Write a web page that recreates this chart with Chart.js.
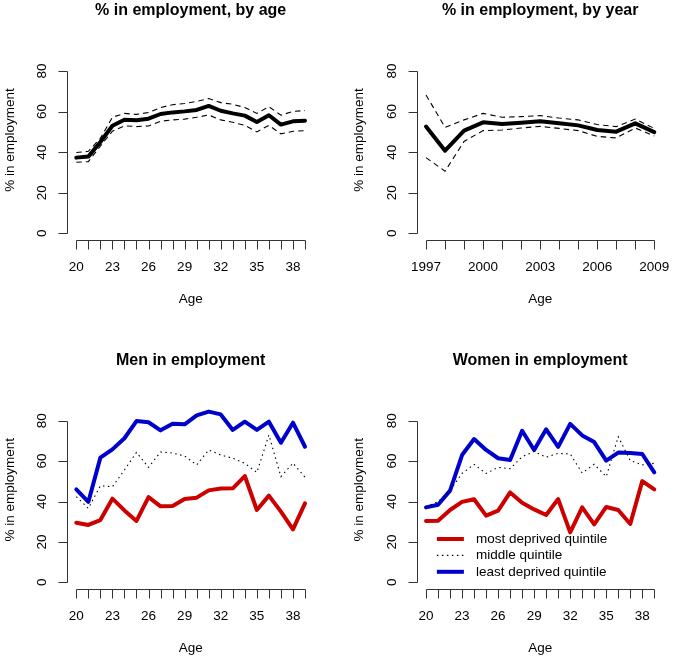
<!DOCTYPE html>
<html><head><meta charset="utf-8">
<script src="https://cdn.jsdelivr.net/npm/chart.js@4.4.1/dist/chart.umd.min.js"></script>
<style>
html,body{margin:0;padding:0;background:#fff;}
#wrap{position:relative;width:673px;height:660px;overflow:hidden;background:#fff;}
canvas{position:absolute;left:0;top:0;}
</style></head><body>
<div id="wrap">
<canvas id="c1" width="673" height="660"></canvas>
<canvas id="c2" width="673" height="660"></canvas>
<canvas id="c3" width="673" height="660"></canvas>
<canvas id="c4" width="673" height="660"></canvas>
</div>
<script>
// ---------- data ----------
const ages = [20,21,22,23,24,25,26,27,28,29,30,31,32,33,34,35,36,37,38,39];
const years = [1997,1998,1999,2000,2001,2002,2003,2004,2005,2006,2007,2008,2009];

const ageMean  = [37.3,37.8,45.0,53.0,56.0,55.7,56.5,58.8,59.6,60.1,60.8,62.8,60.4,59.1,58.0,54.9,58.2,53.6,55.2,55.5];
const ageUpper = [39.8,40.4,46.8,57.2,59.1,58.6,59.5,62.0,63.4,64.0,65.0,66.4,64.4,63.6,62.0,59.1,62.4,58.2,60.1,60.5];
const ageLower = [35.0,35.3,43.0,50.3,53.0,52.6,52.9,55.2,55.9,56.3,57.2,58.3,55.9,54.7,53.2,50.0,53.2,49.0,50.3,50.6];

const yearMean  = [52.6,40.7,50.6,54.7,53.9,54.5,55.2,54.2,53.2,50.9,50.1,54.2,49.9];
const yearUpper = [68.2,52.2,55.9,59.1,57.2,57.5,58.0,56.8,55.9,53.6,52.6,56.3,51.7];
const yearLower = [37.3,30.6,45.3,50.6,50.9,51.9,52.7,51.7,50.6,47.8,47.0,51.9,48.0];

const menMost   = [29.5,28.4,30.8,41.4,35.6,30.4,42.2,37.6,37.8,41.2,41.9,45.5,46.4,46.5,52.6,35.8,42.9,35.0,26.2,39.1];
const menMiddle = [42.4,36.6,47.8,47.3,55.6,64.3,56.9,64.5,64.0,62.5,58.1,65.5,63.0,61.4,58.9,54.4,72.9,52.3,59.0,52.0];
const menLeast  = [46.0,39.8,61.7,65.8,71.3,79.8,79.2,75.2,78.5,78.2,82.6,84.5,83.1,75.4,79.5,75.4,79.5,69.1,79.0,67.1];

const womenMost   = [30.4,30.5,35.8,39.8,41.1,33.0,35.5,44.5,39.4,36.1,33.3,41.2,24.7,37.1,28.7,37.3,35.8,28.9,50.1,46.0];
const womenMiddle = [37.4,39.9,45.4,53.9,58.4,53.9,56.9,56.2,62.2,64.7,61.9,63.8,63.5,54.1,58.4,52.3,72.1,60.2,58.1,58.9];
const womenLeast  = [37.1,38.4,45.4,63.0,70.9,65.5,61.4,60.5,75.0,65.5,75.7,67.0,78.4,72.7,69.4,60.2,64.2,64.0,63.5,54.4];

const yTicks = [0,20,40,60,80];
const ageTickLabels = [20,23,26,29,32,35,38];
const yearTickLabels = [1997,2000,2003,2006,2009];

const titles = ['% in employment, by age','% in employment, by year','Men in employment','Women in employment'];
const xTitle = 'Age';
const yTitle = '% in employment';
const legendLabels = ['most deprived quintile','middle quintile','least deprived quintile'];

// ---------- styles ----------
const FONT = '"Liberation Sans", Arial, Helvetica, sans-serif';
const RED = '#CD0000', BLUE = '#0000CD', AXIS = '#333333';
const W = 673, H = 660;

function pts(xs, ys) { return xs.map((x, i) => ({x: x, y: ys[i]})); }

function thick(data, color) {
  return {data, borderColor: color, borderWidth: 4, pointRadius: 0, tension: 0,
          borderCapStyle: 'round', borderJoinStyle: 'round', fill: false, clip: false};
}
function dashed(data) {
  return {data, borderColor: '#000', borderWidth: 1.1, borderDash: [5.5, 4], pointRadius: 0,
          tension: 0, borderCapStyle: 'butt', fill: false, clip: false};
}
function dotted(data) {
  return {data, borderColor: '#000', borderWidth: 1.1, borderDash: [1.5, 3.5], pointRadius: 0,
          tension: 0, borderCapStyle: 'butt', fill: false, clip: false};
}

function axesPlugin(p) {
  return {
    id: 'rAxes' + p.id,
    afterDraw(chart) {
      const ctx = chart.ctx, xs = chart.scales.x, ys = chart.scales.y, ca = chart.chartArea;
      ctx.save();
      ctx.strokeStyle = AXIS; ctx.lineWidth = 1; ctx.setLineDash([]);
      const TICK = 9;
      // y axis
      const xL = Math.round(ca.left) + 0.5;
      ctx.beginPath();
      ctx.moveTo(xL, Math.round(ys.getPixelForValue(yTicks[0])) + 0.5);
      ctx.lineTo(xL, Math.round(ys.getPixelForValue(yTicks[yTicks.length - 1])) + 0.5);
      yTicks.forEach(v => {
        const y = Math.round(ys.getPixelForValue(v)) + 0.5;
        ctx.moveTo(xL, y); ctx.lineTo(xL - TICK, y);
      });
      // x axis
      const yB = Math.round(ca.bottom) + 0.5;
      const xt = p.xTicks;
      ctx.moveTo(Math.round(xs.getPixelForValue(xt[0])) + 0.5, yB);
      ctx.lineTo(Math.round(xs.getPixelForValue(xt[xt.length - 1])) + 0.5, yB);
      xt.forEach(v => {
        const x = Math.round(xs.getPixelForValue(v)) + 0.5;
        ctx.moveTo(x, yB); ctx.lineTo(x, yB + TICK);
      });
      ctx.stroke();

      // labels
      ctx.fillStyle = '#000';
      ctx.font = '13.5px ' + FONT;
      ctx.textAlign = 'center'; ctx.textBaseline = 'middle';
      yTicks.forEach(v => {
        ctx.save();
        ctx.translate(ca.left - 25, ys.getPixelForValue(v));
        ctx.rotate(-Math.PI / 2);
        ctx.fillText(String(v), 0, 0);
        ctx.restore();
      });
      p.xLabels.forEach(v => {
        ctx.fillText(String(v), xs.getPixelForValue(v), ca.bottom + 27);
      });
      const cx = (ca.left + ca.right) / 2;
      ctx.fillText(xTitle, cx, ca.bottom + 59);
      ctx.save();
      ctx.translate(p.yLabX, ca.top + 75.5);
      ctx.rotate(-Math.PI / 2);
      ctx.fillText(yTitle, 0, 0);
      ctx.restore();

      // title
      ctx.font = 'bold 16px ' + FONT;
      ctx.textBaseline = 'alphabetic';
      ctx.fillText(p.title, cx, ca.top - 49.5);

      // legend
      if (p.legend) {
        const lx0 = ca.left + 20, lx1 = ca.left + 47, tx = ca.left + 59;
        const rows = [ca.top + 124.8, ca.top + 141.2, ca.top + 157.6];
        const styles = [
          {c: RED, w: 4, d: []},
          {c: '#000', w: 1.1, d: [1.5, 3.5]},
          {c: BLUE, w: 4, d: []}
        ];
        ctx.font = '13.5px ' + FONT;
        ctx.textAlign = 'left'; ctx.textBaseline = 'middle';
        rows.forEach((y, i) => {
          const s = styles[i];
          ctx.beginPath();
          ctx.strokeStyle = s.c; ctx.lineWidth = s.w; ctx.setLineDash(s.d);
          ctx.lineCap = 'butt';
          ctx.moveTo(lx0, y); ctx.lineTo(lx1, y);
          ctx.stroke();
          ctx.setLineDash([]);
          ctx.fillStyle = '#000';
          ctx.fillText(legendLabels[i], tx, y);
        });
      }
      ctx.restore();
    }
  };
}

function makePanel(id, p) {
  const ext = (a, b) => { const d = (b - a) * 0.04; return [a - d, b + d]; };
  const [xmin, xmax] = ext(p.xTicks[0], p.xTicks[p.xTicks.length - 1]);
  const [ymin, ymax] = ext(yTicks[0], yTicks[yTicks.length - 1]);
  new Chart(document.getElementById(id), {
    type: 'line',
    data: {datasets: p.datasets},
    options: {
      responsive: false, animation: false, devicePixelRatio: 1,
      layout: {padding: {left: p.area[0], top: p.area[1], right: W - p.area[2], bottom: H - p.area[3]}},
      plugins: {legend: {display: false}, tooltip: {enabled: false}, title: {display: false}},
      events: [],
      scales: {
        x: {type: 'linear', min: xmin, max: xmax, display: false},
        y: {type: 'linear', min: ymin, max: ymax, display: false}
      }
    },
    plugins: [axesPlugin(p)]
  });
}

// plot regions [left, top, right, bottom] in page pixels
makePanel('c1', {
  id: 1, title: titles[0], xTicks: ages, xLabels: ageTickLabels, yLabX: 10,
  area: [67.15, 64.5, 314.15, 239.8],
  datasets: [dashed(pts(ages, ageUpper)), dashed(pts(ages, ageLower)), thick(pts(ages, ageMean), '#000')]
});
makePanel('c2', {
  id: 2, title: titles[1], xTicks: years, xLabels: yearTickLabels, yLabX: 359,
  area: [416.9, 64.5, 663.4, 239.8],
  datasets: [dashed(pts(years, yearUpper)), dashed(pts(years, yearLower)), thick(pts(years, yearMean), '#000')]
});
makePanel('c3', {
  id: 3, title: titles[2], xTicks: ages, xLabels: ageTickLabels, yLabX: 10,
  area: [67.15, 414.2, 314.15, 588.8],
  datasets: [dotted(pts(ages, menMiddle)), thick(pts(ages, menMost), RED), thick(pts(ages, menLeast), BLUE)]
});
makePanel('c4', {
  id: 4, title: titles[3], xTicks: ages, xLabels: ageTickLabels, yLabX: 359, legend: true,
  area: [416.9, 414.2, 663.4, 588.8],
  datasets: [dotted(pts(ages, womenMiddle)), thick(pts(ages, womenMost), RED), thick(pts(ages, womenLeast), BLUE)]
});
</script>
</body></html>
